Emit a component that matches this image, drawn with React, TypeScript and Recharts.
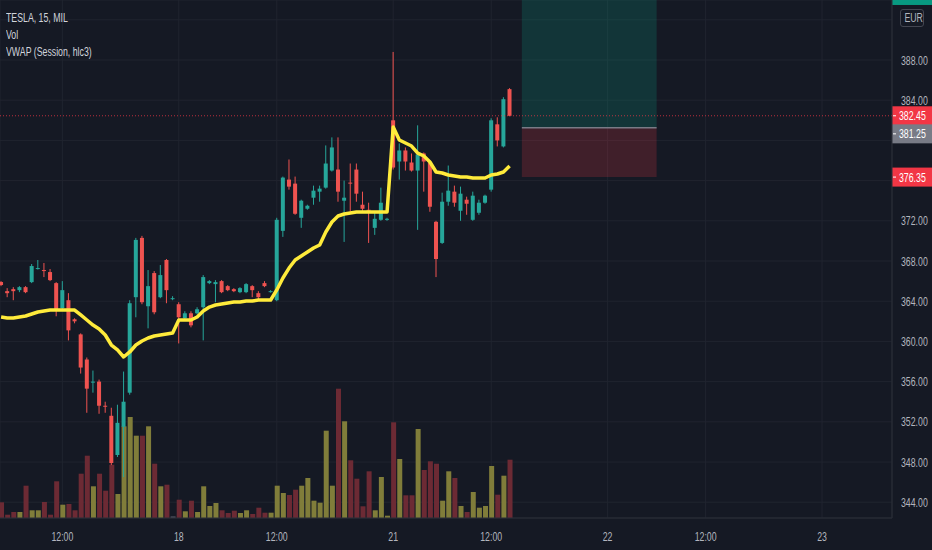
import React from "react";
import {
  Bar,
  CartesianGrid,
  ComposedChart,
  Line,
  ReferenceArea,
  ReferenceLine,
  XAxis,
  YAxis,
} from "recharts";

document.body.style.margin = "0";

// 15-minute bars, TSLA on MIL (EUR)
const opens = [
  365.91, 365.0, 365.2, 365.1, 365.4, 365.9, 367.2, 367.1, 366.9, 365.8,
  363.3, 364.1, 362.2, 360.7, 358.2, 355.9, 356.0, 353.6, 352.6, 348.7,
  351.5, 354.9, 364.4, 370.3, 363.5, 366.8, 364.4, 368.1, 364.3, 363.7,
  362.3, 362.8, 362.8, 363.4, 365.8, 365.7, 366.0, 365.5, 365.2, 364.9,
  364.9, 365.5, 364.8, 365.8, 364.9, 364.1, 371.0, 376.1, 375.7, 372.3,
  373.2, 374.3, 374.9, 375.3, 377.0, 377.1, 374.0, 375.8, 377.1, 373.6,
  373.1, 371.3, 372.1, 372.1, 382.0, 377.9, 379.0, 377.8, 377.0, 378.7,
  377.8, 371.9, 369.8, 373.9, 374.9, 373.0, 374.1, 372.1, 372.8, 373.8,
  375.1, 381.6, 379.4, 385.1,
];
const highs = [
  366.0, 365.3, 365.4, 365.5, 365.5, 367.7, 368.1, 367.8, 367.2, 365.9,
  366.0, 364.8, 362.3, 360.8, 358.4, 357.1, 356.2, 354.0, 353.4, 353.7,
  357.0, 364.1, 370.3, 370.5, 367.1, 367.0, 367.6, 368.2, 364.5, 363.9,
  363.0, 363.0, 363.4, 366.6, 366.1, 366.1, 366.1, 365.6, 365.3, 365.4,
  365.8, 365.6, 365.0, 366.0, 365.1, 372.3, 376.4, 378.1, 376.4, 374.1,
  373.6, 375.5, 375.5, 379.5, 380.3, 380.3, 376.0, 377.7, 377.7, 374.9,
  373.8, 372.8, 375.3, 372.3, 388.8, 379.7, 379.3, 378.7, 381.5, 378.8,
  377.9, 372.0, 374.8, 377.5, 375.5, 375.4, 374.4, 374.9, 374.1, 374.6,
  382.2, 382.3, 384.3, 385.2,
];
const lows = [
  365.5, 364.4, 364.1, 364.9, 364.8, 365.8, 367.15, 366.4, 366.0, 362.5,
  363.2, 360.1, 361.8, 356.8, 352.9, 354.9, 352.8, 352.9, 347.7, 348.5,
  346.5, 354.7, 362.4, 363.7, 361.3, 362.7, 364.3, 363.8, 364.1, 359.8,
  362.2, 361.4, 362.7, 360.1, 365.7, 363.9, 364.8, 365.0, 364.9, 364.8,
  364.8, 364.4, 364.2, 365.4, 364.85, 364.0, 370.4, 375.1, 372.6, 371.3,
  373.1, 373.6, 373.9, 375.2, 376.9, 373.9, 369.9, 372.9, 373.9, 373.0,
  369.8, 370.6, 372.0, 372.0, 377.1, 376.1, 377.0, 376.9, 371.1, 374.9,
  372.9, 366.4, 369.7, 373.5, 373.4, 372.0, 372.6, 372.0, 372.6, 373.7,
  374.9, 379.4, 379.3, 382.4,
];
const closes = [
  365.61, 364.8, 365.0, 365.4, 364.9, 367.5, 367.3, 367.0, 366.1, 363.1,
  365.1, 361.1, 362.0, 357.4, 355.3, 356.0, 353.6, 353.5, 347.9, 351.9,
  354.0, 363.8, 370.1, 363.9, 365.5, 362.9, 366.6, 365.1, 364.3, 362.4,
  362.8, 361.6, 363.2, 366.4, 366.0, 365.9, 364.9, 365.1, 365.0, 365.3,
  365.7, 365.1, 364.4, 365.5, 365.0, 372.1, 376.3, 375.4, 372.7, 374.0,
  373.5, 375.0, 375.2, 377.7, 379.3, 374.9, 374.3, 375.7, 374.7, 373.2,
  373.0, 372.2, 373.8, 372.2, 377.3, 379.0, 377.9, 377.0, 378.6, 377.9,
  373.4, 368.2, 373.9, 375.0, 373.8, 374.7, 373.7, 374.5, 373.8, 374.5,
  382.0, 380.0, 384.1, 382.45,
];
const vwap = [
  362.43, 362.33, 362.33, 362.43, 362.53, 362.73, 362.93, 363.03, 363.12, 363.12,
  363.12, 363.12, 363.12, 362.63, 362.13, 361.63, 361.24, 360.64, 359.64, 359.15,
  358.45, 358.95, 359.64, 360.04, 360.34, 360.54, 360.64, 360.74, 360.84, 362.13,
  362.13, 362.13, 362.43, 363.03, 363.42, 363.62, 363.72, 363.82, 363.92, 363.92,
  364.02, 364.02, 364.12, 364.12, 364.12, 365.12, 366.31, 367.3, 368.1, 368.5,
  368.9, 369.29, 369.59, 370.89, 371.88, 372.48, 372.68, 372.78, 372.88, 372.88,
  372.88, 372.88, 372.88, 372.88, 381.33, 380.04, 379.74, 379.44, 378.74, 378.45,
  377.85, 376.86, 376.76, 376.56, 376.46, 376.36, 376.36, 376.26, 376.26, 376.26,
  376.56, 376.66, 376.86, 377.45,
];
const volumes = [
  157, 33, 60, 60, 323, 77, 77, 160, 33, 367,
  133, 140, 77, 443, 623, 317, 443, 273, 533, 240,
  917, 1010, 823, 823, 917, 543, 317, 333, 17, 183,
  67, 173, 60, 317, 120, 150, 77, 50, 73, 50,
  77, 40, 103, 53, 53, 323, 250, 230, 283, 323,
  400, 173, 153, 873, 323, 1293, 967, 577, 393, 117,
  467, 77, 410, 23, 957, 590, 227, 227, 890, 480,
  567, 543, 173, 467, 400, 120, 60, 260, 103, 120,
  520, 233, 423, 583,
];

// time axis: bar index of each label
const timeTicks = [10, 29, 45, 64, 80, 99, 115, 134];
const timeLabels = ["12:00", "18", "12:00", "21", "12:00", "22", "12:00", "23"];

const priceTicks = [344, 348, 352, 356, 360, 364, 368, 372, 376, 380, 384, 388, 392];
const hiddenPriceLabels = [376, 380, 392];

// long position tool
const lastPrice = 382.45;
const entryPrice = 381.25;
const stopPrice = 376.35;
const targetPrice = 394.42;
const toolStart = 85;
const toolEnd = 107;

const X_MIN = -0.18;
const X_MAX = 145.42;
const PRICE_MIN = 342.43;
const PRICE_MAX = 393.97;
const VOL_MAX = 5180;

const BG = "#151924";
const GRID = "#20242f";
const UP = "#26a69a";
const DOWN = "#ef5350";
const VOL_UP = "#807d3a";
const VOL_DOWN = "#6c2a34";
const VOL_FLAT = "#4a4e5a";
const TEXT = "#b2b5be";
const FONT = '"Liberation Sans", Arial, sans-serif';
const SQUISH = 0.73; // the screenshot's type is narrow

const data = opens.map((o, i) => ({
  i,
  open: o,
  high: highs[i],
  low: lows[i],
  close: closes[i],
  range: [lows[i], highs[i]],
  vwap: vwap[i],
  volume: volumes[i],
}));

function NarrowText({ x, y, fill, anchor = "start", size = 12, children }: any) {
  return (
    <text
      transform={`translate(${x} ${y}) scale(${SQUISH} 1)`}
      fill={fill}
      fontSize={size}
      fontFamily={FONT}
      textAnchor={anchor}
    >
      {children}
    </text>
  );
}

function Candle(props: any) {
  const { x, y, width, height, payload } = props;
  if (!payload || height == null) return null;
  const { open, close, high, low } = payload;
  const ratio = height / (high - low);
  const color = close >= open ? UP : DOWN;
  const top = y + (high - Math.max(open, close)) * ratio;
  const bottom = y + (high - Math.min(open, close)) * ratio;
  const cx = x + width / 2;
  return (
    <g>
      <line x1={cx} x2={cx} y1={y} y2={y + height} stroke={color} strokeWidth={1} />
      <rect x={x} y={top} width={width} height={Math.max(1, bottom - top)} fill={color} />
    </g>
  );
}

function VolumeBar(props: any) {
  const { x, y, width, height, payload } = props;
  if (!payload || !height) return null;
  const fill =
    payload.close > payload.open ? VOL_UP : payload.close < payload.open ? VOL_DOWN : VOL_FLAT;
  return <rect x={x} y={y} width={width} height={height} fill={fill} />;
}

// price tag on the right scale; text is left out when the tag sits above the pane
function PriceTag({ viewBox, text, fill, shift = 0 }: any) {
  if (!viewBox) return null;
  const x = viewBox.x + viewBox.width;
  const y = viewBox.y + shift;
  return (
    <g>
      <rect x={x} y={y - 9.5} width={40} height={19} fill={fill} />
      {text && (
        <>
          <line x1={x + 1} x2={x + 4} y1={y} y2={y} stroke="#ffffff" strokeWidth={1} />
          <NarrowText x={x + 7} y={y + 4.5} fill="#ffffff">
            {text}
          </NarrowText>
        </>
      )}
    </g>
  );
}

function PriceTick({ x, y, payload }: any) {
  if (hiddenPriceLabels.includes(payload.value)) return null;
  return (
    <NarrowText x={x + 7} y={y + 4.5} fill={TEXT}>
      {payload.value.toFixed(2)}
    </NarrowText>
  );
}

function TimeTick({ x, y, payload }: any) {
  const label = timeLabels[timeTicks.indexOf(payload.value)];
  return (
    <NarrowText x={x} y={y + 21} fill={TEXT} anchor="middle">
      {label}
    </NarrowText>
  );
}

const legendLine: React.CSSProperties = {
  position: "absolute",
  left: 6,
  fontFamily: FONT,
  fontSize: 12,
  color: "#d1d4dc",
  lineHeight: "17px",
  whiteSpace: "nowrap",
  transform: `scaleX(${SQUISH})`,
  transformOrigin: "0 0",
};

export default function App() {
  return (
    <div style={{ position: "relative", width: 932, height: 550, background: BG, overflow: "hidden" }}>
      <ComposedChart
        width={932}
        height={550}
        data={data}
        margin={{ top: 0, right: 0, bottom: 0, left: 0 }}
      >
        <CartesianGrid xAxisId="main" yAxisId="price" stroke={GRID} strokeWidth={1} />
        <XAxis
          xAxisId="main"
          dataKey="i"
          type="number"
          domain={[X_MIN, X_MAX]}
          allowDataOverflow
          ticks={timeTicks}
          interval={0}
          height={32}
          tickLine={false}
          tickSize={0}
          axisLine={{ stroke: "#2a2e39" }}
          tick={<TimeTick />}
        />
        <XAxis xAxisId="vol" dataKey="i" type="number" domain={[X_MIN, X_MAX]} allowDataOverflow hide />
        <YAxis
          yAxisId="price"
          orientation="right"
          width={40}
          domain={[PRICE_MIN, PRICE_MAX]}
          allowDataOverflow
          ticks={priceTicks}
          interval={0}
          tickLine={false}
          tickSize={0}
          axisLine={{ stroke: "#2a2e39" }}
          tick={<PriceTick />}
        />
        <YAxis yAxisId="vol" domain={[0, VOL_MAX]} allowDataOverflow hide />

        <ReferenceArea
          xAxisId="main"
          yAxisId="price"
          x1={toolStart}
          x2={toolEnd}
          y1={entryPrice}
          y2={targetPrice}
          fill="#089981"
          fillOpacity={0.22}
          stroke="none"
          ifOverflow="hidden"
        />
        <ReferenceArea
          xAxisId="main"
          yAxisId="price"
          x1={toolStart}
          x2={toolEnd}
          y1={stopPrice}
          y2={entryPrice}
          fill="#f23645"
          fillOpacity={0.2}
          stroke="none"
          ifOverflow="hidden"
        />
        <ReferenceLine
          xAxisId="main"
          yAxisId="price"
          segment={[
            { x: toolStart, y: entryPrice },
            { x: toolEnd, y: entryPrice },
          ]}
          stroke="#787b86"
          strokeWidth={1.5}
        />

        <Bar
          xAxisId="vol"
          yAxisId="vol"
          dataKey="volume"
          barSize={5}
          shape={<VolumeBar />}
          isAnimationActive={false}
        />
        <Bar
          xAxisId="main"
          yAxisId="price"
          dataKey="range"
          barSize={4}
          shape={<Candle />}
          isAnimationActive={false}
        />
        <Line
          xAxisId="main"
          yAxisId="price"
          dataKey="vwap"
          type="linear"
          stroke="#ffeb3b"
          strokeWidth={3.5}
          strokeLinejoin="round"
          dot={false}
          activeDot={false}
          isAnimationActive={false}
        />

        <ReferenceLine
          xAxisId="main"
          yAxisId="price"
          y={lastPrice}
          stroke="#f23645"
          strokeOpacity={0.75}
          strokeDasharray="1 2"
          label={(p: any) => <PriceTag viewBox={p.viewBox} text={lastPrice.toFixed(2)} fill="#f23645" />}
        />
        <ReferenceLine
          xAxisId="main"
          yAxisId="price"
          y={entryPrice}
          stroke="none"
          label={(p: any) => (
            <PriceTag viewBox={p.viewBox} text={entryPrice.toFixed(2)} fill="#787b86" shift={6} />
          )}
        />
        <ReferenceLine
          xAxisId="main"
          yAxisId="price"
          y={stopPrice}
          stroke="none"
          label={(p: any) => <PriceTag viewBox={p.viewBox} text={stopPrice.toFixed(2)} fill="#f23645" />}
        />
        <ReferenceLine
          xAxisId="main"
          yAxisId="price"
          y={targetPrice}
          stroke="none"
          ifOverflow="visible"
          label={(p: any) => <PriceTag viewBox={p.viewBox} fill="#089981" />}
        />
      </ComposedChart>

      <div style={{ ...legendLine, top: 10 }}>TESLA, 15, MIL</div>
      <div style={{ ...legendLine, top: 27 }}>Vol</div>
      <div style={{ ...legendLine, top: 44 }}>VWAP (Session, hlc3)</div>
      <div
        style={{
          position: "absolute",
          left: 900,
          top: 9,
          width: 24,
          height: 18,
          border: "1px solid #434651",
          borderRadius: 3,
          boxSizing: "border-box",
          color: TEXT,
          fontFamily: FONT,
          fontSize: 12,
          lineHeight: "16px",
          textAlign: "center",
        }}
      >
        <span style={{ display: "inline-block", transform: `scaleX(${SQUISH})` }}>EUR</span>
      </div>
    </div>
  );
}
